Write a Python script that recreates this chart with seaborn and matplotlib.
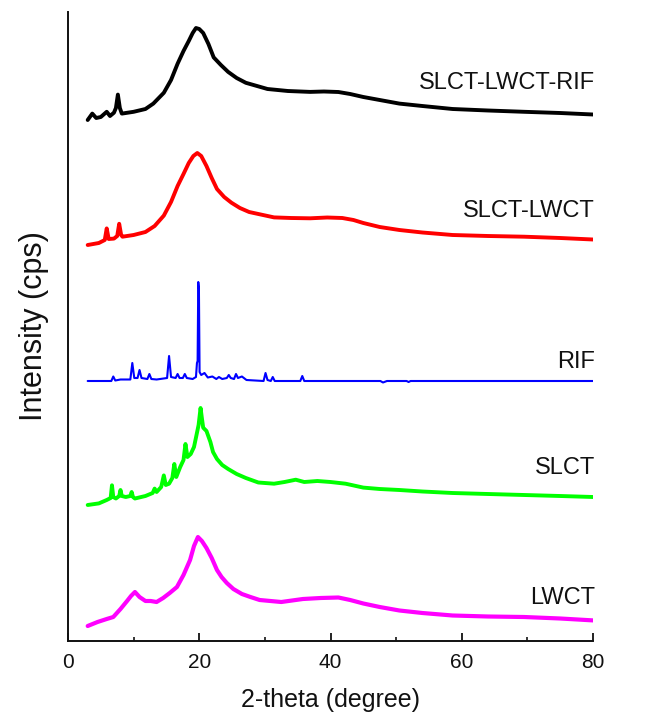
import matplotlib
matplotlib.use("Agg")
import matplotlib.pyplot as plt
import seaborn as sns
import numpy as np
import pandas as pd
from matplotlib.ticker import MultipleLocator

sns.set_style("ticks")
plt.rcParams['font.family'] = ['Liberation Sans', 'DejaVu Sans']

# ---- data (2-theta in degrees, stacked intensity in arbitrary units) ----
black_x = [3, 3.7, 4.3, 5, 5.9, 6.4, 7.0, 7.3, 7.6, 7.9, 8.2, 10, 11.8, 13, 14.6, 15.7, 16.7, 17.6,
           18.4, 19.0, 19.5, 20.0, 20.6, 21.4, 22.2, 23.3, 24.4, 25.7, 27.1, 30.4, 33.5, 36.9, 39,
           41.2, 43, 45, 47.5, 50.5, 54, 58.6, 64, 69.5, 75, 80]
black_y = [521, 527.4, 523, 524, 529.2, 525, 528.3, 533, 546.4, 533, 527.4, 529.2, 532, 537.4, 548.2,
           561, 577.3, 590, 600, 608, 613, 612, 608, 597, 583.6, 576, 569.1, 563, 558.2, 552, 550,
           549.1, 549.5, 549, 547, 544, 541, 537.4, 535, 532, 530.5, 529.2, 528, 526.5]

red_x = [3, 4.7, 5.6, 5.9, 6.2, 7.0, 7.5, 7.8, 8.1, 8.3, 10, 11.8, 13.2, 14.6, 15.7, 16.7, 17.6, 18.4,
         19.1, 19.7, 20.3, 21.1, 21.9, 22.7, 23.8, 24.9, 26.2, 27.6, 31.4, 34, 36.9, 39.5, 41.8, 43.5,
         45, 47.5, 50.5, 54, 58.6, 64, 69.5, 75, 80]
red_y = [396, 398, 401, 412.6, 402, 402.4, 405, 417.2, 406, 404.3, 406, 409, 415, 425.4, 439, 455, 467,
         478, 485, 488, 485, 475, 463, 452, 444, 438.3, 433, 429, 423.6, 423, 422.7, 423.5, 423, 421,
         418, 414, 411, 408.5, 406, 405, 404.3, 403, 401.5]

blue_x = [3, 6.6, 6.9, 7.2, 8.0, 9.5, 9.8, 10.1, 10.6, 10.9, 11.2, 12.1, 12.4, 12.7, 13.5, 15.1, 15.4,
          15.7, 16.4, 16.7, 17.0, 17.5, 17.8, 18.1, 19.0, 19.5, 19.65, 19.75, 19.85, 19.95, 20.05,
          20.3, 20.8, 21.3, 22.0, 22.6, 23.0, 23.5, 24.2, 24.5, 24.8, 25.3, 25.6, 25.9, 26.5, 27.2,
          29.8, 30.1, 30.4, 30.9, 31.2, 31.5, 35.4, 35.7, 36.0, 47.6, 48.0, 48.6, 51.6, 51.9, 52.2, 80]
blue_y = [260, 260, 264.5, 260.5, 261.5, 261.5, 278, 263, 263, 271, 263, 262, 267, 262, 261.5, 263, 285,
          264, 263, 267, 263, 263, 267, 263, 262, 264, 278, 280, 359, 352, 269, 266, 268, 263.5, 264.5,
          262, 264, 262, 263, 266, 263, 262, 267, 263, 264.5, 261, 260, 268, 261, 260, 264, 260, 260,
          265, 260, 260, 258.5, 260, 260, 259, 260, 260]

green_x = [3, 4.7, 5.9, 6.5, 6.7, 6.9, 7.3, 7.8, 8.0, 8.2, 8.8, 9.5, 9.7, 9.9, 10.2, 11.8, 12.9, 13.2,
           13.5, 14.2, 14.6, 14.9, 15.4, 15.9, 16.2, 16.5, 17.1, 17.6, 17.9, 18.2, 18.7, 19.2, 19.5,
           19.9, 20.2, 20.4, 20.6, 21.1, 21.7, 22.1, 22.7, 23.5, 24.4, 25.7, 27.1, 29, 31.4, 33, 34.7,
           36, 38, 40, 42.3, 45, 47.5, 50.5, 54, 58.6, 64, 69.5, 75, 80]
green_y = [136, 137.6, 141, 143, 155.7, 144, 142.5, 145, 151, 145, 144, 145, 149, 144, 142.5, 145, 148,
           152.4, 149, 154, 165.6, 156, 157.3, 163, 177, 164, 174, 181, 197, 184, 187, 194, 203.4, 216,
           233, 223, 213.3, 210, 199, 189, 182, 176, 172, 167, 163, 158.5, 157.3, 159, 161.3, 159, 160,
           159, 157.3, 153.4, 152, 151, 149.5, 148, 147, 146, 145, 144]

magenta_x = [3, 4.5, 5.9, 6.9, 8.0, 9.0, 9.6, 10.2, 10.9, 11.8, 12.6, 13.5, 14.5, 15.5, 16.6, 17.6,
             18.6, 19.2, 19.8, 20.4, 21.1, 21.9, 22.7, 23.4, 24.2, 25.2, 26.5, 27.8, 29.2, 32.5, 35.8,
             38.5, 41.2, 43, 45, 47.5, 50.5, 54, 58.6, 64, 69.5, 75, 80]
magenta_y = [15, 19, 22, 24, 32, 40, 45, 49, 44, 40, 40, 39, 43, 48, 54, 66, 81, 95, 104, 100, 93, 83,
             71, 64, 58, 52, 47, 44, 41, 39, 42, 43, 43.5, 41, 37.5, 34, 30.5, 28, 25.5, 24.5, 24, 22.5,
             20.6]

series_names = ["SLCT-LWCT-RIF", "SLCT-LWCT", "RIF", "SLCT", "LWCT"]
label_y = [558, 430, 279, 173, 43]

x_ticks = [0, 20, 40, 60, 80]
x_label = "2-theta (degree)"
y_label = "Intensity (cps)"

traces = [
    (black_x, black_y, "#000000", 2.8),
    (red_x, red_y, "#FF0000", 2.8),
    (blue_x, blue_y, "#0000FF", 1.5),
    (green_x, green_y, "#00FF00", 2.8),
    (magenta_x, magenta_y, "#FF00FF", 3.0),
]

fig = plt.figure(figsize=(6.49, 7.12), dpi=100)
ax = fig.add_axes([68 / 649, 71 / 712, 525 / 649, 629 / 712])

for (xs, ys, col, lw), name in zip(traces, series_names):
    df = pd.DataFrame({"x": xs, "y": ys})
    sns.lineplot(data=df, x="x", y="y", ax=ax, color=col, linewidth=lw,
                 estimator=None, sort=False, legend=False)

for name, ly in zip(series_names, label_y):
    ax.text(80.3, ly, name, ha="right", va="center", fontsize=17, color="#111111")

ax.set_xlim(0, 80)
ax.set_ylim(0, 629)
ax.set_xticks(x_ticks)
ax.xaxis.set_minor_locator(MultipleLocator(10))
ax.set_yticks([])
ax.tick_params(axis="x", which="major", direction="in", length=6, width=1.3,
               labelsize=15, pad=9, colors="#111111")
ax.tick_params(axis="x", which="minor", direction="in", length=3, width=1.3)
for s in ["top", "right"]:
    ax.spines[s].set_visible(False)
for s in ["left", "bottom"]:
    ax.spines[s].set_linewidth(1.4)
    ax.spines[s].set_color("#111111")

ax.set_xlabel(x_label, fontsize=18, labelpad=11, color="#111111")
ax.set_ylabel(y_label, fontsize=22, labelpad=14, color="#111111")

fig.savefig("out.png", dpi=100)
